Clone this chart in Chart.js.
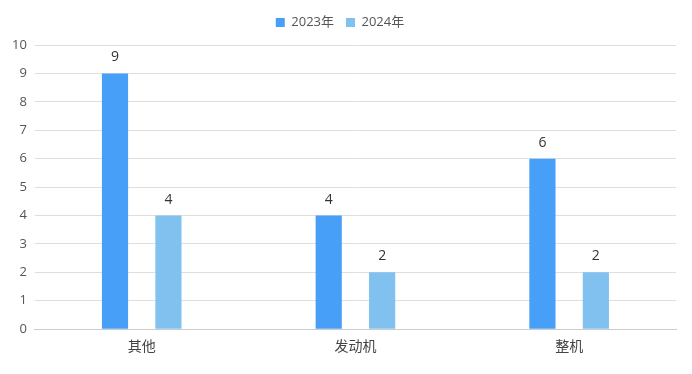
<!DOCTYPE html>
<html><head><meta charset="utf-8">
<script src="https://cdn.jsdelivr.net/npm/chart.js@4/dist/chart.umd.min.js"></script>
<style>html,body{margin:0;padding:0;background:#fff}#wrap{width:692px;height:374px}</style>
</head><body><div id="wrap"><canvas id="c"></canvas></div>
<script>
const categories = ['其他', '发动机', '整机'];
const seriesNames = ['2023年', '2024年'];
const values2023 = [9, 4, 6];
const values2024 = [4, 2, 2];
const yTicks = [0,1,2,3,4,5,6,7,8,9,10];

const FONT = "'Open Sans','Noto Sans CJK SC',sans-serif";
const labelPlugin = {
  id: 'valLabels',
  beforeInit(chart) {
    const orig = chart.legend.fit;
    chart.legend.fit = function() { orig.call(this); this.height += 6; };
  },
  afterDatasetsDraw(chart) {
    const ctx = chart.ctx;
    ctx.save();
    ctx.font = '14px ' + FONT;
    ctx.fillStyle = '#333';
    ctx.textAlign = 'center';
    ctx.textBaseline = 'bottom';
    chart.data.datasets.forEach((ds, i) => {
      chart.getDatasetMeta(i).data.forEach((bar, j) => {
        ctx.fillText(String(ds.data[j]), bar.x, bar.y - 9);
      });
    });
    ctx.restore();
  }
};
new Chart(document.getElementById('c'), {
  type: 'bar',
  data: {
    labels: categories,
    datasets: [
      {label: seriesNames[0], data: values2023, backgroundColor: '#479ff8', categoryPercentage: 0.5, barPercentage: 0.49},
      {label: seriesNames[1], data: values2024, backgroundColor: '#80c1f0', categoryPercentage: 0.5, barPercentage: 0.49}
    ]
  },
  options: {
    responsive: true, maintainAspectRatio: false, animation: false,
    layout: {padding: {left: 4, right: 16, top: 4, bottom: 10}},
    plugins: {
      legend: {
        position: 'top',
        labels: {boxWidth: 9, boxHeight: 9, padding: 12, color: '#555', font: {family: FONT, size: 13}}
      },
      tooltip: {enabled: false}
    },
    scales: {
      x: {
        grid: {display: false, drawTicks: false},
        border: {display: true, color: '#ccc'},
        ticks: {color: '#444', padding: 9, font: {family: FONT, size: 14}}
      },
      y: {
        min: 0, max: 10,
        afterBuildTicks(axis) { axis.ticks = yTicks.map(v => ({value: v})); },
        grid: {color: '#dedede', drawTicks: false},
        border: {display: false},
        ticks: {color: '#555', padding: 8, font: {family: FONT, size: 13}}
      }
    }
  },
  plugins: [labelPlugin]
});
</script></body></html>
